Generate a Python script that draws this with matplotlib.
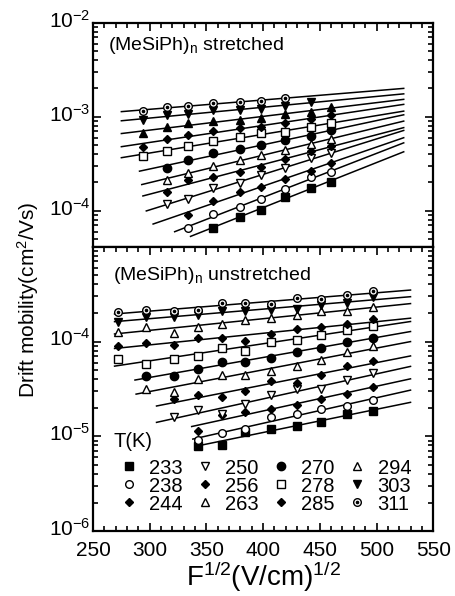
import numpy as np
import matplotlib
matplotlib.use("Agg")
import matplotlib.pyplot as plt
import matplotlib.transforms as mtransforms
from matplotlib.legend_handler import HandlerTuple
from matplotlib.ticker import LogLocator, MultipleLocator, NullFormatter, FixedLocator

plt.rcParams["font.family"] = ["Liberation Sans", "DejaVu Sans"]
plt.rcParams["mathtext.fontset"] = "custom"
plt.rcParams["mathtext.rm"] = "Liberation Sans"
plt.rcParams["mathtext.it"] = "Liberation Sans:italic"
plt.rcParams["mathtext.default"] = "regular"

temps = ["233", "238", "244", "250", "256", "263", "270", "278", "285", "294", "303", "311"]

# ---- stretched film (upper panel) ----
x_top = [294, 315, 334, 356, 380, 398, 419, 442, 460]
first_top = [3, 2, 2, 1, 1, 1, 1, 0, 0, 0, 0, 0]
mu_top = [
    [6.59e-5, 8.63e-5, 1.03e-4, 1.41e-4, 1.76e-4, 2.00e-4],
    [6.59e-5, 9.14e-5, 1.10e-4, 1.33e-4, 1.70e-4, 2.26e-4, 2.58e-4],
    [9.0e-5, 1.28e-4, 1.59e-4, 1.77e-4, 2.17e-4, 2.67e-4, 3.24e-4],
    [1.18e-4, 1.33e-4, 1.73e-4, 1.99e-4, 2.39e-4, 2.82e-4, 3.60e-4, 4.07e-4],
    [1.59e-4, 2.12e-4, 2.30e-4, 2.56e-4, 2.89e-4, 3.52e-4, 4.35e-4, 4.88e-4],
    [2.12e-4, 2.49e-4, 3.01e-4, 3.46e-4, 3.91e-4, 4.42e-4, 5.12e-4, 5.74e-4],
    [2.86e-4, 3.46e-4, 4.07e-4, 4.53e-4, 5.00e-4, 5.65e-4, 6.23e-4, 7.16e-4],
    [3.82e-4, 4.35e-4, 4.91e-4, 5.55e-4, 6.02e-4, 6.65e-4, 6.87e-4, 7.70e-4, 8.49e-4],
    [4.80e-4, 5.83e-4, 6.38e-4, 7.05e-4, 7.51e-4, 7.83e-4, 8.63e-4, 9.52e-4, 1.03e-3],
    [6.65e-4, 7.76e-4, 8.49e-4, 9.06e-4, 9.22e-4, 9.76e-4, 1.06e-3, 1.12e-3, 1.28e-3],
    [9.2e-4, 1.03e-3, 1.07e-3, 1.17e-3, 1.17e-3, 1.22e-3, 1.30e-3, 1.44e-3],
    [1.15e-3, 1.27e-3, 1.29e-3, 1.40e-3, 1.43e-3, 1.48e-3, 1.57e-3],
]
fit_from_top = [336, 322, 303, 297, 294, 293, 291, 275, 275, 275, 275, 275]
fit_to_top = 524

# ---- unstretched film (lower panel) ----
x_bot = [272, 297, 321, 343, 364, 384, 407, 430, 451, 474, 497]
first_bot = [3, 3, 3, 2, 2, 1, 1, 0, 0, 0, 0, 0]
mu_bot = [
    [7.96e-6, 8.09e-6, 1.10e-5, 1.20e-5, 1.27e-5, 1.43e-5, 1.70e-5, 1.85e-5],
    [9.23e-6, 1.08e-5, 1.20e-5, 1.59e-5, 1.73e-5, 1.92e-5, 2.09e-5, 2.40e-5],
    [1.15e-5, 1.66e-5, 1.80e-5, 1.95e-5, 2.16e-5, 2.49e-5, 2.82e-5, 3.32e-5],
    [1.59e-5, 1.88e-5, 1.73e-5, 2.21e-5, 2.71e-5, 3.13e-5, 3.13e-5, 3.91e-5, 4.61e-5],
    [2.45e-5, 2.71e-5, 2.60e-5, 2.99e-5, 3.82e-5, 3.61e-5, 4.42e-5, 5.56e-5, 6.23e-5],
    [3.19e-5, 2.94e-5, 4.01e-5, 4.42e-5, 4.42e-5, 4.88e-5, 5.51e-5, 6.38e-5, 7.70e-5, 8.99e-5],
    [4.35e-5, 4.35e-5, 5.12e-5, 6.03e-5, 6.12e-5, 6.76e-5, 7.70e-5, 8.63e-5, 1.0e-4, 1.10e-4],
    [6.48e-5, 5.78e-5, 6.48e-5, 7.04e-5, 8.63e-5, 8.02e-5, 1.0e-4, 1.04e-4, 1.18e-4, 1.33e-4, 1.47e-4],
    [9.06e-5, 9.60e-5, 9.22e-5, 1.08e-4, 1.08e-4, 1.02e-4, 1.20e-4, 1.36e-4, 1.41e-4, 1.53e-4, 1.71e-4],
    [1.26e-4, 1.44e-4, 1.23e-4, 1.41e-4, 1.53e-4, 1.70e-4, 1.77e-4, 1.89e-4, 2.09e-4, 2.12e-4, 2.32e-4],
    [1.61e-4, 1.80e-4, 1.81e-4, 1.92e-4, 2.09e-4, 2.12e-4, 2.17e-4, 2.23e-4, 2.42e-4, 2.56e-4, 2.96e-4],
    [2.05e-4, 2.14e-4, 2.10e-4, 2.17e-4, 2.52e-4, 2.56e-4, 2.46e-4, 2.89e-4, 2.84e-4, 3.08e-4, 3.40e-4],
]
fit_from_bot = [340, 338, 337, 306, 306, 288, 287, 269, 269, 269, 269, 269]
fit_to_bot = 530

# marker, filled?  (294 is filled in the stretched panel)
markers = ["s", "o", "D", "v", "D", "^", "o", "s", "D", "^", "v", "o"]
filled = [True, False, True, False, True, False, True, False, True, False, True, False]
msize = [5.5, 5.5, 4.5, 5.5, 4.5, 5.5, 6, 5.5, 4.5, 5.5, 6, 5.5]


def draw_panel(ax, xcol, mus, first, fit_from, fit_to, tri_filled):
    handles = []
    for i, T in enumerate(temps):
        x = np.array(xcol[first[i]:first[i] + len(mus[i])], dtype=float)
        y = np.array(mus[i])
        k, b = np.polyfit(x, np.log10(y), 1)
        xl = np.array([fit_from[i], fit_to], dtype=float)
        ax.plot(xl, 10 ** (k * xl + b), color="k", lw=1.1, zorder=1)
        fill = filled[i] or (tri_filled and T == "294")
        h, = ax.plot(x, y, ls="none", marker=markers[i], ms=msize[i],
                     mec="k", mew=1.0, mfc="k" if fill else "white", zorder=3)
        if T == "311":
            d, = ax.plot(x, y, ls="none", marker="o", ms=1.6, mec="k", mfc="k", zorder=4)
            h = (h, d)
        handles.append(h)
    return handles


def style_axis(ax, ylo, yhi, yticks, bottom_labels):
    ax.set_yscale("log")
    ax.set_xlim(250, 550)
    ax.set_ylim(ylo, yhi)
    ax.xaxis.set_major_locator(MultipleLocator(50))
    ax.xaxis.set_minor_locator(MultipleLocator(10))
    ax.yaxis.set_major_locator(FixedLocator(yticks))
    ax.yaxis.set_minor_locator(LogLocator(base=10, subs=np.arange(2, 10)))
    ax.yaxis.set_minor_formatter(NullFormatter())
    ax.tick_params(which="both", direction="in", top=True, right=True,
                   bottom=bottom_labels, labelbottom=bottom_labels, labelsize=15, width=1.2)
    ax.tick_params(which="major", length=6)
    ax.tick_params(which="minor", length=3.5)
    ax.tick_params(axis="y", pad=2)
    ax.tick_params(axis="x", pad=7)
    for s in ax.spines.values():
        s.set_linewidth(1.6)
    # the exponent labels sit a little above their ticks
    up = mtransforms.ScaledTranslation(0, 3 / 72, ax.figure.dpi_scale_trans)
    for t in ax.yaxis.get_major_ticks():
        t.label1.set_transform(t.label1.get_transform() + up)


fig = plt.figure(figsize=(4.56, 5.96), dpi=100)
ax1 = fig.add_axes([0.204, 0.586, 0.746, 0.376])
ax2 = fig.add_axes([0.204, 0.109, 0.746, 0.477])

draw_panel(ax1, x_top, mu_top, first_top, fit_from_top, fit_to_top, True)
hb = draw_panel(ax2, x_bot, mu_bot, first_bot, fit_from_bot, fit_to_bot, False)

style_axis(ax1, 4.14e-5, 1e-2, [1e-4, 1e-3, 1e-2], False)
style_axis(ax2, 1e-6, 1e-3, [1e-6, 1e-5, 1e-4], True)

ax1.text(0.044, 0.90, r"(MeSiPh)$_n$ stretched", transform=ax1.transAxes,
         fontsize=14, va="center", ha="left")
ax2.text(0.059, 0.90, r"(MeSiPh)$_n$ unstretched", transform=ax2.transAxes,
         fontsize=14, va="center", ha="left")
ax2.text(0.059, 0.314, "T(K)", transform=ax2.transAxes, fontsize=14.5, va="center", ha="left")

ax2.legend(hb, temps, ncol=4, loc="upper left", bbox_to_anchor=(0.081, 0.255),
           frameon=False, fontsize=14.5, handlelength=0.8, handletextpad=0.6,
           columnspacing=0.72, labelspacing=-0.05, borderpad=0, borderaxespad=0,
           handler_map={tuple: HandlerTuple(ndivide=1, pad=0)})

ax2.set_xlabel(r"F$^{1/2}$(V/cm)$^{1/2}$", fontsize=20, labelpad=0)
fig.text(0.062, 0.497, r"Drift mobility(cm$^2$/Vs)", rotation=90, fontsize=15,
         ha="center", va="center")

fig.savefig("out.png", dpi=100)
